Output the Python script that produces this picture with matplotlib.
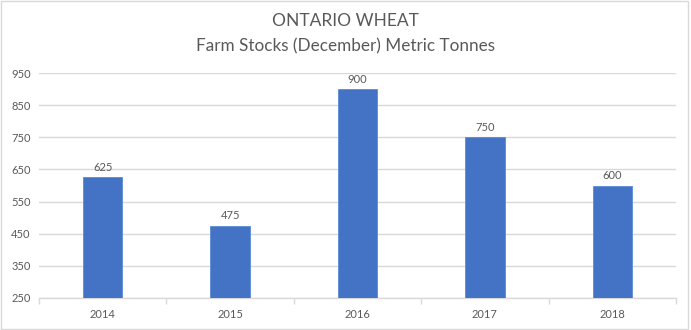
import matplotlib
matplotlib.use("Agg")
import matplotlib.pyplot as plt
from matplotlib.patches import Rectangle

years = ["2014", "2015", "2016", "2017", "2018"]
stocks = [625, 475, 900, 750, 600]
yticks = [250, 350, 450, 550, 650, 750, 850, 950]

plt.rcParams['font.family'] = ['Lato', 'DejaVu Sans']
txt = '#595959'
grid = '#D9D9D9'

fig = plt.figure(figsize=(6.91, 3.30), dpi=100)
ax = fig.add_axes([39/691, 1-298/330, (676-39)/691, (298-73)/330])

x = list(range(len(years)))
bars = ax.bar(x, [v - 250 for v in stocks], bottom=250, width=0.31, color='#4472C4',
              edgecolor='#5B8BD6', linewidth=0.6, zorder=3)
for xi, v in zip(x, stocks):
    ax.text(xi, v + 14, str(v), ha='center', va='bottom', fontsize=8, color=txt)

ax.set_xlim(-0.5, len(years) - 0.5)
ax.set_ylim(250, 950)
ax.set_yticks(yticks)
ax.set_yticklabels([str(t) for t in yticks], fontsize=8, color=txt)
ax.set_xticks(x)
ax.set_xticklabels(years, fontsize=8, color=txt)
ax.tick_params(axis='both', length=0, pad=6)
ax.tick_params(axis='x', pad=8)
ax.set_xticks([i + 0.5 for i in range(-1, len(years))], minor=True)
ax.tick_params(axis='x', which='minor', length=4, color=grid, width=1)
ax.yaxis.grid(True, color=grid, linewidth=1, zorder=0)
for s in ['top', 'right', 'left']:
    ax.spines[s].set_visible(False)
ax.spines['bottom'].set_color(grid)
ax.spines['bottom'].set_linewidth(1)

fig.text(0.5, 0.935, "ONTARIO WHEAT", ha='center', va='center', fontsize=12.5, color=txt)
fig.text(0.5, 0.86, "Farm Stocks (December) Metric Tonnes", ha='center', va='center', fontsize=12.3, color=txt)

fig.patches.append(Rectangle((0.002, 0.004), 0.994, 0.992, transform=fig.transFigure,
                             fill=False, edgecolor='#D9D9D9', linewidth=1))

fig.savefig("out.png", dpi=100)
